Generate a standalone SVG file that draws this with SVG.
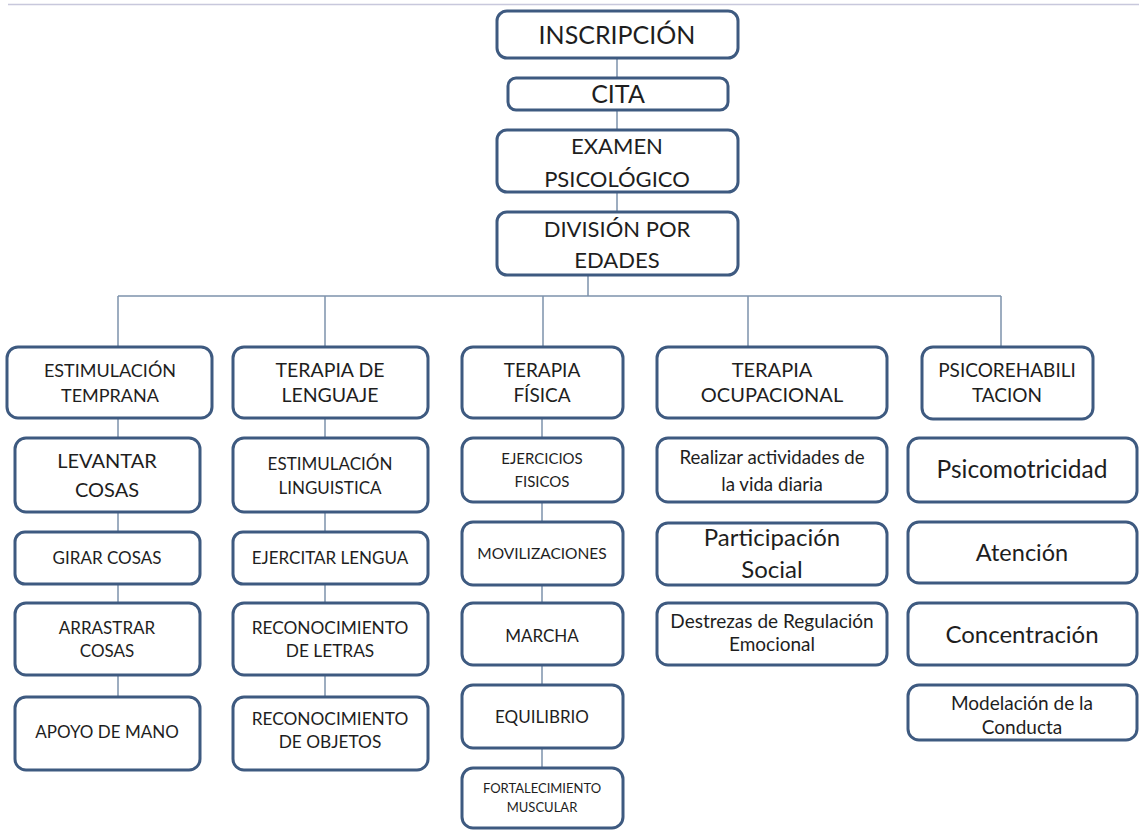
<svg xmlns="http://www.w3.org/2000/svg" width="1139" height="831" viewBox="0 0 1139 831">
<style>
.b{fill:#fff;stroke:#3e5a80;stroke-width:3}
.c{stroke:#7e92ac;stroke-width:1.5;fill:none}
text{font-family:Lato,"Open Sans","Liberation Sans",sans-serif;fill:#1e1e1e;text-anchor:middle}
</style>
<rect width="1139" height="831" fill="#fff"/>
<line x1="8" y1="4.5" x2="1139" y2="4.5" stroke="#c8c8dc" stroke-width="1.5"/>
<g id="connectors">
<path class="c" d="M617 58V78M617 110V130M617 192V212M588 275V296M118 296H1001M118 296V347M325 296V347M543 296V347M748 296V347M1001 296V347"/>
<path class="c" d="M118 418V438M118 512V532M118 584V603M118 675V697"/>
<path class="c" d="M325 418V438M325 512V532M325 584V603M325 675V697"/>
<path class="c" d="M542 418V438M542 502V522M542 585V603M542 665V685M542 748V768"/>
</g>
<g id="n-inscripcion"><rect class="b" x="497" y="11" width="241" height="47" rx="10"/><text x="617" y="44" font-size="25">INSCRIPCIÓN</text></g>
<g id="n-cita"><rect class="b" x="508" y="78" width="220" height="32" rx="8"/><text x="618" y="103" font-size="25">CITA</text></g>
<g id="n-examen"><rect class="b" x="497" y="130" width="241" height="62" rx="10"/><text x="617" y="154" font-size="22">EXAMEN</text><text x="617" y="187" font-size="22">PSICOLÓGICO</text></g>
<g id="n-division"><rect class="b" x="497" y="212" width="241" height="63" rx="10"/><text x="617" y="237" font-size="22">DIVISIÓN POR</text><text x="617" y="268" font-size="22">EDADES</text></g>

<g id="n-estimulacion"><rect class="b" x="7" y="347" width="205" height="71" rx="11"/><text x="110" y="377" font-size="18">ESTIMULACIÓN</text><text x="110" y="402" font-size="18">TEMPRANA</text></g>
<g id="n-lenguaje"><rect class="b" x="233" y="347" width="195" height="71" rx="11"/><text x="330" y="377" font-size="19.5">TERAPIA DE</text><text x="330" y="402" font-size="19.5">LENGUAJE</text></g>
<g id="n-fisica"><rect class="b" x="462" y="347" width="161" height="71" rx="11"/><text x="542" y="377" font-size="19">TERAPIA</text><text x="542" y="402" font-size="19">FÍSICA</text></g>
<g id="n-ocupacional"><rect class="b" x="657" y="347" width="230" height="71" rx="11"/><text x="772" y="377" font-size="20">TERAPIA</text><text x="772" y="402" font-size="20">OCUPACIONAL</text></g>
<g id="n-psico"><rect class="b" x="922" y="347" width="171" height="72" rx="11"/><text x="1007" y="377" font-size="19">PSICOREHABILI</text><text x="1007" y="402" font-size="19">TACION</text></g>

<g id="n-levantar"><rect class="b" x="15" y="438" width="185" height="74" rx="11"/><text x="107" y="468" font-size="20">LEVANTAR</text><text x="107" y="497" font-size="20">COSAS</text></g>
<g id="n-girar"><rect class="b" x="15" y="532" width="185" height="52" rx="10"/><text x="107" y="564" font-size="17">GIRAR COSAS</text></g>
<g id="n-arrastrar"><rect class="b" x="15" y="603" width="185" height="72" rx="11"/><text x="107" y="634" font-size="17">ARRASTRAR</text><text x="107" y="657" font-size="17">COSAS</text></g>
<g id="n-apoyo"><rect class="b" x="15" y="697" width="185" height="73" rx="11"/><text x="107" y="738" font-size="17">APOYO DE MANO</text></g>

<g id="n-estling"><rect class="b" x="233" y="438" width="195" height="74" rx="11"/><text x="330" y="470" font-size="17">ESTIMULACIÓN</text><text x="330" y="494" font-size="17">LINGUISTICA</text></g>
<g id="n-ejercitar"><rect class="b" x="233" y="532" width="195" height="52" rx="10"/><text x="330" y="564" font-size="17">EJERCITAR LENGUA</text></g>
<g id="n-recletras"><rect class="b" x="233" y="603" width="195" height="72" rx="11"/><text x="330" y="634" font-size="17.3">RECONOCIMIENTO</text><text x="330" y="657" font-size="17.3">DE LETRAS</text></g>
<g id="n-recobjetos"><rect class="b" x="233" y="697" width="195" height="73" rx="11"/><text x="330" y="725" font-size="17.3">RECONOCIMIENTO</text><text x="330" y="748" font-size="17.3">DE OBJETOS</text></g>

<g id="n-ejercicios"><rect class="b" x="462" y="438" width="161" height="64" rx="11"/><text x="542" y="464" font-size="15">EJERCICIOS</text><text x="542" y="487" font-size="15">FISICOS</text></g>
<g id="n-movilizaciones"><rect class="b" x="462" y="522" width="161" height="63" rx="11"/><text x="542" y="559" font-size="15.5">MOVILIZACIONES</text></g>
<g id="n-marcha"><rect class="b" x="462" y="603" width="161" height="62" rx="11"/><text x="542" y="642" font-size="17">MARCHA</text></g>
<g id="n-equilibrio"><rect class="b" x="462" y="685" width="161" height="63" rx="11"/><text x="542" y="723" font-size="17">EQUILIBRIO</text></g>
<g id="n-fortalecimiento"><rect class="b" x="462" y="768" width="161" height="60" rx="11"/><text x="542" y="793" font-size="13">FORTALECIMIENTO</text><text x="542" y="812" font-size="13">MUSCULAR</text></g>

<g id="n-realizar"><rect class="b" x="657" y="438" width="230" height="64" rx="11"/><text x="772" y="464" font-size="18.7">Realizar actividades de</text><text x="772" y="491" font-size="18.7">la vida diaria</text></g>
<g id="n-participacion"><rect class="b" x="657" y="523" width="230" height="62" rx="11"/><text x="772" y="546" font-size="24">Participación</text><text x="772" y="578" font-size="24">Social</text></g>
<g id="n-destrezas"><rect class="b" x="657" y="603" width="230" height="62" rx="11"/><text x="772" y="628" font-size="19">Destrezas de Regulación</text><text x="772" y="651" font-size="19">Emocional</text></g>

<g id="n-psicomotricidad"><rect class="b" x="908" y="438" width="229" height="64" rx="11"/><text x="1022" y="478" font-size="24.5">Psicomotricidad</text></g>
<g id="n-atencion"><rect class="b" x="908" y="522" width="229" height="61" rx="11"/><text x="1022" y="561" font-size="23.5">Atención</text></g>
<g id="n-concentracion"><rect class="b" x="908" y="603" width="229" height="62" rx="11"/><text x="1022" y="643" font-size="24">Concentración</text></g>
<g id="n-modelacion"><rect class="b" x="908" y="685" width="229" height="55" rx="11"/><text x="1022" y="710" font-size="19">Modelación de la</text><text x="1022" y="734" font-size="19">Conducta</text></g>
</svg>
